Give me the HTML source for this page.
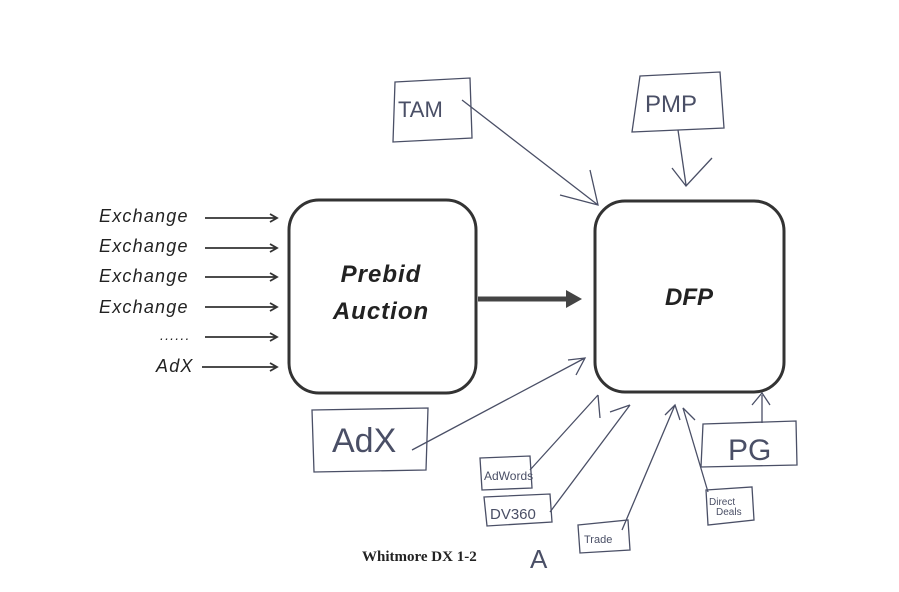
<!DOCTYPE html>
<html><head><meta charset="utf-8"><style>
html,body{margin:0;padding:0;background:#fff;}
svg{display:block;}
.hw{font-family:"Liberation Sans",sans-serif;font-style:italic;fill:#222;}
.pen{fill:none;stroke:#4a4f66;stroke-width:1.3;}
.pt{font-family:"Liberation Sans",sans-serif;fill:#4a4f66;}
</style></head><body>
<svg width="899" height="592" viewBox="0 0 899 592" xmlns="http://www.w3.org/2000/svg">
<g class="hw" font-size="18" letter-spacing="1.2">
<text x="99" y="222">Exchange</text>
<text x="99" y="252">Exchange</text>
<text x="99" y="282">Exchange</text>
<text x="99" y="313">Exchange</text>
<text x="160" y="340" font-size="14">......</text>
<text x="156" y="372">AdX</text>
</g>
<g stroke="#333" stroke-width="1.8" fill="none">
<path d="M205 218H276M270 214L277 218L270 222"/>
<path d="M205 248H276M270 244L277 248L270 252"/>
<path d="M205 277H276M270 273L277 277L270 281"/>
<path d="M205 307H276M270 303L277 307L270 311"/>
<path d="M205 337H276M270 333L277 337L270 341"/>
<path d="M202 367H276M270 363L277 367L270 371"/>
</g>
<rect x="289" y="200" width="187" height="193" rx="30" fill="none" stroke="#333" stroke-width="3"/>
<rect x="595" y="201" width="189" height="191" rx="30" fill="none" stroke="#333" stroke-width="3"/>
<text x="381" y="282" text-anchor="middle" font-size="24" font-weight="bold" class="hw" letter-spacing="1">Prebid</text>
<text x="381" y="319" text-anchor="middle" font-size="24" font-weight="bold" class="hw" letter-spacing="1">Auction</text>
<text x="689" y="305" text-anchor="middle" font-size="24" font-weight="bold" class="hw">DFP</text>
<path d="M478 299H572" stroke="#444" stroke-width="5"/>
<path d="M566 290L582 299L566 308Z" fill="#444"/>
<g class="pen">
<path d="M395 82L470 78L472 138L393 142Z"/>
<path d="M462 100L598 205M560 195L598 205L590 170"/>
<path d="M640 76L720 72L724 128L632 132Z"/>
<path d="M678 130L686 185M672 168L686 186L712 158"/>
<path d="M312 410L428 408L426 470L314 472Z"/>
<path d="M412 450L585 358M568 360L585 358L576 375"/>
<path d="M480 458L530 456L532 488L482 490Z"/>
<path d="M530 470L598 395M598 395L600 418"/>
<path d="M484 497L550 494L552 522L487 526Z"/>
<path d="M550 512L630 405M610 412L630 405"/>
<path d="M578 525L628 520L630 550L580 553Z"/>
<path d="M622 530L675 405M665 415L675 405L680 420"/>
<path d="M706 490L752 487L754 520L708 525Z"/>
<path d="M708 492L683 408L695 420"/>
<path d="M703 424L796 421L797 465L701 467Z"/>
<path d="M762 423V395M752 405L762 393L770 405"/>
</g>
<g class="pt">
<text x="398" y="117" font-size="22">TAM</text>
<text x="645" y="112" font-size="24">PMP</text>
<text x="332" y="452" font-size="34">AdX</text>
<text x="484" y="480" font-size="12">AdWords</text>
<text x="490" y="519" font-size="15">DV360</text>
<text x="584" y="543" font-size="11">Trade</text>
<text x="709" y="505" font-size="10">Direct</text>
<text x="716" y="515" font-size="10">Deals</text>
<text x="728" y="460" font-size="30">PG</text>
<text x="530" y="568" font-size="26">A</text>
</g>
<text x="362" y="561" font-family="Liberation Serif,serif" font-weight="bold" font-size="15" fill="#222">Whitmore DX 1-2</text>
</svg>
</body></html>
